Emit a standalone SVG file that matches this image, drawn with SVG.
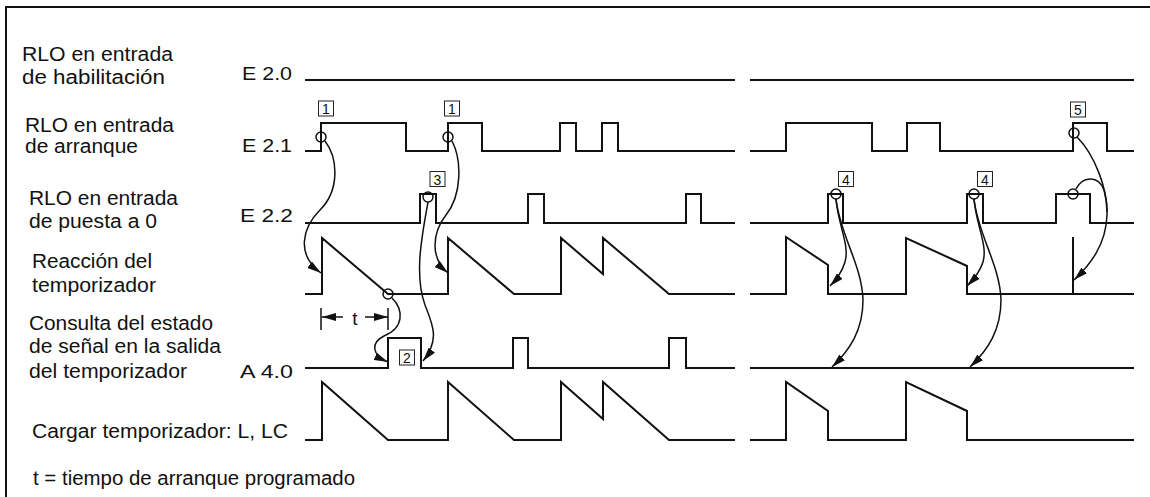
<svg xmlns="http://www.w3.org/2000/svg" width="1150" height="497" viewBox="0 0 1150 497">
<defs>
<style>
.sig{fill:none;stroke:#111;stroke-width:2;stroke-linejoin:miter}
.frame{fill:none;stroke:#111;stroke-width:2}
.cur{fill:none;stroke:#111;stroke-width:1.5}
.ring{fill:none;stroke:#111;stroke-width:1.5}
.lbl{font-family:"Liberation Sans",Arial,sans-serif;font-size:20px;fill:#111}
.sl{font-family:"Liberation Sans",Arial,sans-serif;font-size:19px;fill:#111}
.box{fill:#fff;stroke:#222;stroke-width:1}
.num{font-family:"Liberation Sans",Arial,sans-serif;font-size:14px;fill:#111;text-anchor:middle}
</style>
<marker id="ah" viewBox="0 0 14 8" refX="14" refY="4" markerWidth="14" markerHeight="8" markerUnits="userSpaceOnUse" orient="auto">
<path d="M0,0 L14,4 L0,8 Z" fill="#111"/>
</marker>
</defs>
<rect width="1150" height="497" fill="#fff"/>
<path class="frame" d="M6,497 V7 H1150"/>

<g id="labels">
<text class="lbl" x="22" y="61" textLength="151" lengthAdjust="spacingAndGlyphs">RLO en entrada</text>
<text class="lbl" x="22" y="84" textLength="143" lengthAdjust="spacingAndGlyphs">de habilitación</text>
<text class="sl" x="242" y="80" textLength="50" lengthAdjust="spacingAndGlyphs">E 2.0</text>
<text class="lbl" x="25" y="132" textLength="149" lengthAdjust="spacingAndGlyphs">RLO en entrada</text>
<text class="lbl" x="25" y="153" textLength="113" lengthAdjust="spacingAndGlyphs">de arranque</text>
<text class="sl" x="242" y="152" textLength="50" lengthAdjust="spacingAndGlyphs">E 2.1</text>
<text class="lbl" x="29" y="205" textLength="149" lengthAdjust="spacingAndGlyphs">RLO en entrada</text>
<text class="lbl" x="29" y="228" textLength="128" lengthAdjust="spacingAndGlyphs">de puesta a 0</text>
<text class="sl" x="240" y="222" textLength="53" lengthAdjust="spacingAndGlyphs">E 2.2</text>
<text class="lbl" x="32" y="268" textLength="120" lengthAdjust="spacingAndGlyphs">Reacción del</text>
<text class="lbl" x="32" y="292" textLength="124" lengthAdjust="spacingAndGlyphs">temporizador</text>
<text class="lbl" x="29" y="330" textLength="184" lengthAdjust="spacingAndGlyphs">Consulta del estado</text>
<text class="lbl" x="29" y="353" textLength="192" lengthAdjust="spacingAndGlyphs">de señal en la salida</text>
<text class="lbl" x="29" y="378" textLength="158" lengthAdjust="spacingAndGlyphs">del temporizador</text>
<text class="sl" x="240" y="378" textLength="53" lengthAdjust="spacingAndGlyphs">A 4.0</text>
<text class="lbl" x="32" y="438" textLength="256" lengthAdjust="spacingAndGlyphs">Cargar temporizador: L, LC</text>
<text class="lbl" x="33" y="485" textLength="322" lengthAdjust="spacingAndGlyphs">t = tiempo de arranque programado</text>
</g>

<g id="signals">
<g id="e20">
<path class="sig" d="M305,80 H735"/>
<path class="sig" d="M750,80 H1134"/>
</g>
<g id="e21">
<path class="sig" d="M305,151 H321 V123 H406 V151 H448 V123 H482 V151 H560 V123 H576 V151 H602 V123 H618 V151 H735"/>
<path class="sig" d="M750,151 H786 V123 H872 V151 H907 V123 H940 V151 H1073 V123 H1107 V151 H1134"/>
</g>
<g id="e22">
<path class="sig" d="M305,223 H420 V194 H436 V223 H528 V194 H544 V223 H686 V194 H701 V223 H735"/>
<path class="sig" d="M750,223 H828 V194 H843 V223 H967 V194 H983 V223 H1056 V194 H1090 V223 H1134"/>
</g>
<g id="timer">
<path class="sig" d="M305,294 H322 V238 L388,294 H448 V238 L514,294 H561 V238 L603,274 V238 L669,294 H735"/>
<path class="sig" d="M750,294 H786 V237 L828,265 V294 H906 V238 L967,266 V294 H1134"/>
<path class="sig" d="M1073,294 V237"/>
</g>
<g id="a40">
<path class="sig" d="M305,368 H388 V338 H421 V368 H513 V338 H528 V368 H669 V338 H686 V368 H735"/>
<path class="sig" d="M750,368 H1134"/>
</g>
<g id="load">
<path class="sig" d="M305,440 H322 V382 L388,440 H448 V382 L514,440 H561 V382 L603,419 V382 L669,440 H735"/>
<path class="sig" d="M750,440 H786 V382 L828,411 V440 H906 V382 L967,411 V440 H1134"/>
</g>
</g>

<g id="markers">
<circle class="ring" cx="321" cy="137" r="5"/>
<circle class="ring" cx="448" cy="137" r="5"/>
<circle class="ring" cx="428" cy="197" r="5"/>
<circle class="ring" cx="388" cy="294" r="5"/>
<circle class="ring" cx="836" cy="194" r="5"/>
<circle class="ring" cx="974" cy="194" r="5"/>
<circle class="ring" cx="1073" cy="194" r="5"/>
<circle class="ring" cx="1074" cy="133" r="5"/>
</g>

<g id="tags">
<g id="tag1a"><rect class="box" x="318.5" y="101" width="15" height="15"/><text class="num" x="326" y="114">1</text></g>
<g id="tag1b"><rect class="box" x="444.5" y="101" width="15" height="15"/><text class="num" x="452" y="114">1</text></g>
<g id="tag3"><rect class="box" x="430" y="171.5" width="15" height="15"/><text class="num" x="437.5" y="184.5">3</text></g>
<g id="tag2"><rect class="box" x="399.5" y="350" width="15" height="15"/><text class="num" x="407" y="363">2</text></g>
<g id="tag4a"><rect class="box" x="838.5" y="171.5" width="15" height="15"/><text class="num" x="846" y="184.5">4</text></g>
<g id="tag4b"><rect class="box" x="977.5" y="171.5" width="15" height="15"/><text class="num" x="985" y="184.5">4</text></g>
<g id="tag5"><rect class="box" x="1070.5" y="102" width="15" height="15"/><text class="num" x="1078" y="115">5</text></g>
</g>

<g id="tmeasure">
<path class="cur" d="M321,308 V330 M388,308 V330"/>
<path class="cur" d="M343,317 H322" marker-end="url(#ah)"/>
<path class="cur" d="M365,317 H388" marker-end="url(#ah)"/>
<text class="sl" x="355" y="325" text-anchor="middle">t</text>
</g>

<g id="connectors">
<path class="cur" d="M325,141 C338,158 340,190 320,210 C302,228 296,255 321,273" marker-end="url(#ah)"/>
<path class="cur" d="M452,141 C462,160 462,195 446,215 C432,233 430,258 448,273" marker-end="url(#ah)"/>
<path class="cur" d="M428,202 C422,235 414,275 425,305 C433,325 440,340 423,361" marker-end="url(#ah)"/>
<path class="cur" d="M392,298 C404,310 404,328 384,336 C370,343 372,355 388,362" marker-end="url(#ah)"/>
<path class="cur" d="M836,199 C838,225 850,245 845,262 C842,272 836,280 830,286" marker-end="url(#ah)"/>
<path class="cur" d="M836,199 C840,235 862,265 863,300 C863,330 850,350 832,367" marker-end="url(#ah)"/>
<path class="cur" d="M974,199 C976,225 988,245 983,262 C980,272 973,280 967,286" marker-end="url(#ah)"/>
<path class="cur" d="M974,199 C978,235 1000,265 1001,300 C1001,330 988,350 970,367" marker-end="url(#ah)"/>
<path class="cur" d="M1077,137 C1095,155 1108,190 1107,215 C1106,245 1090,265 1074,280" marker-end="url(#ah)"/>
<path class="cur" d="M1076,189 C1082,177 1098,174 1104,190 C1106,197 1107,205 1107,212"/>
</g>
</svg>
